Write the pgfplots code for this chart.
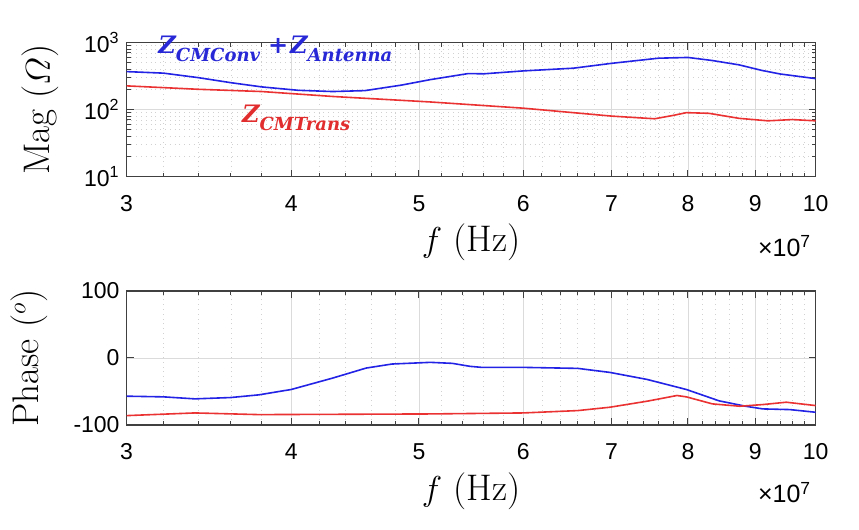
\documentclass[border=0pt]{standalone}
\usepackage{fontspec}
\usepackage{amsmath}
\usepackage{pgfplots}
\pgfplotsset{compat=1.18}
\newfontfamily\arial{Liberation Sans}
\newfontfamily\dvs{DejaVu Serif}
\definecolor{zblue}{RGB}{40,40,215}
\definecolor{zred}{RGB}{225,45,45}
\definecolor{lblue}{RGB}{35,35,230}
\definecolor{lred}{RGB}{235,50,50}
\newcommand\zsub[1]{Z\raisebox{-4pt}{\fontsize{9}{10}\selectfont #1}}

% magnitude, f in units of 1e7 Hz
\pgfplotstableread{
f     mag
3.0   369
3.2   350
3.4   300
3.6   252
3.8   218
4.05  194
4.3   186
4.55  192
4.85  232
5.1   280
5.45  345
5.6   342
6.0   378
6.55  415
7.0   490
7.6   585
8.0   600
8.35  540
8.75  465
9.1   385
9.4   340
10    290
}\magconv
\pgfplotstableread{
f     mag
3.0   226
3.4   201
3.8   186
4.3   157
5.1   130
6.0   105
7.0   80
7.3   76
7.55  73
7.8   82
7.98  90
8.3   88
8.75  74
9.2   68
9.6   71
10    68
}\magtrans
\pgfplotstableread{
f     ph
3.0   -57
3.2   -58
3.38  -61
3.6   -59
3.78  -55
4.0   -47
4.3   -30
4.56  -15
4.77  -9
5.1   -6.5
5.3   -8
5.47  -12.5
5.58  -14
6.0   -14
6.6   -15.5
6.98  -21.5
7.45  -32
7.98  -47
8.45  -64
8.85  -72
9.12  -76
9.56  -77
10    -81
}\phconv
\pgfplotstableread{
f     ph
3.0   -86
3.38  -82
3.78  -84.5
5.1   -83.5
6.0   -82
6.6   -78.5
6.98  -73.5
7.45  -64.5
7.85  -56
7.98  -58
8.35  -68.5
8.76  -72
9.12  -69.5
9.5   -66
10    -71
}\phtrans

\pgfplotsset{
  every axis/.append style={
    scale only axis, width=344.5pt, height=67pt,
    tick align=inside, xtick pos=both, ytick pos=both,
    major tick length=3.5pt, minor tick length=2pt,
    grid=both,
    major grid style={black!14, line width=0.4pt},
    minor grid style={black!18, dotted, line width=0.4pt},
    axis line style={black!75, line width=0.6pt},
    tick style={black!75, line width=0.5pt},
    ticklabel style={font=\arial\fontsize{11.5}{13}\selectfont},
    /pgf/number format/assume math mode=true,
    xticklabel style={anchor=base, yshift=-17.5pt},
    xlabel style={font=\fontsize{18.5}{20}\selectfont, at={(axis description cs:0.5,0)}, anchor=base, yshift=-37.7pt},
    ylabel style={font=\fontsize{18.5}{20}\selectfont, anchor=base},
    clip=false,
  },
  every axis plot/.append style={line width=0.8pt},
}

\begin{document}
\begin{tikzpicture}[x=1pt,y=1pt]
\useasboundingbox (0,0) rectangle (429.5,265);

\begin{axis}[at={(63.3pt,176.7pt)}, anchor=south west,
  xmode=log, xmin=3, xmax=10,
  xtick={3,4,5,6,7,8,9,10}, xticklabels={3,4,5,6,7,8,9,10},
  minor xtick={3.2,3.4,3.6,3.8,4.2,4.4,4.6,4.8,5.2,5.4,5.6,5.8,6.2,6.4,6.6,6.8,
               7.2,7.4,7.6,7.8,8.2,8.4,8.6,8.8,9.2,9.4,9.6,9.8},
  ymode=log, ymin=10, ymax=1000,
  ytick={10,100,1000},
  yticklabels={10\textsuperscript{1},10\textsuperscript{2},10\textsuperscript{3}},
  minor ytick={20,30,40,50,60,70,80,90,200,300,400,500,600,700,800,900},
  xlabel={$f$ (Hz)},
  ylabel={Mag ($\varOmega$)},
  ylabel style={at={(axis description cs:-0.1112,0.5)}},
]
\addplot[lblue] table[x=f, y=mag] {\magconv};
\addplot[lred] table[x=f, y=mag] {\magtrans};
\node[anchor=base west, inner sep=0, text=zblue, font=\dvs\bfseries\itshape\fontsize{12}{14}\selectfont]
  at (rel axis cs:0.0456,0.92) {\zsub{CMConv}\kern4pt{\upshape+}\kern1pt\zsub{Antenna}};
\node[anchor=base west, inner sep=0, text=zred, font=\dvs\bfseries\itshape\fontsize{12}{14}\selectfont]
  at (rel axis cs:0.167,0.40) {\zsub{CMTrans}};
\node[anchor=base east, inner sep=0, font=\arial\fontsize{12.5}{14}\selectfont, xshift=-2pt, yshift=-40pt]
  at (rel axis cs:1,0) {×10\textsuperscript{7}};
\end{axis}

\begin{axis}[at={(63.3pt,52.5pt)}, anchor=south west,
  xmode=log, xmin=3, xmax=10,
  xtick={3,4,5,6,7,8,9,10}, xticklabels={3,4,5,6,7,8,9,10},
  minor xtick={3.2,3.4,3.6,3.8,4.2,4.4,4.6,4.8,5.2,5.4,5.6,5.8,6.2,6.4,6.6,6.8,
               7.2,7.4,7.6,7.8,8.2,8.4,8.6,8.8,9.2,9.4,9.6,9.8},
  ymin=-100, ymax=100,
  ytick={-100,0,100},
  xlabel={$f$ (Hz)},
  ylabel={Phase ($^o$)},
  ylabel style={at={(axis description cs:-0.1286,0.5)}},
]
\addplot[lblue] table[x=f, y=ph] {\phconv};
\addplot[lred] table[x=f, y=ph] {\phtrans};
\node[anchor=base east, inner sep=0, font=\arial\fontsize{12.5}{14}\selectfont, xshift=-2pt, yshift=-39pt]
  at (rel axis cs:1,0) {×10\textsuperscript{7}};
\end{axis}
\end{tikzpicture}
\end{document}
